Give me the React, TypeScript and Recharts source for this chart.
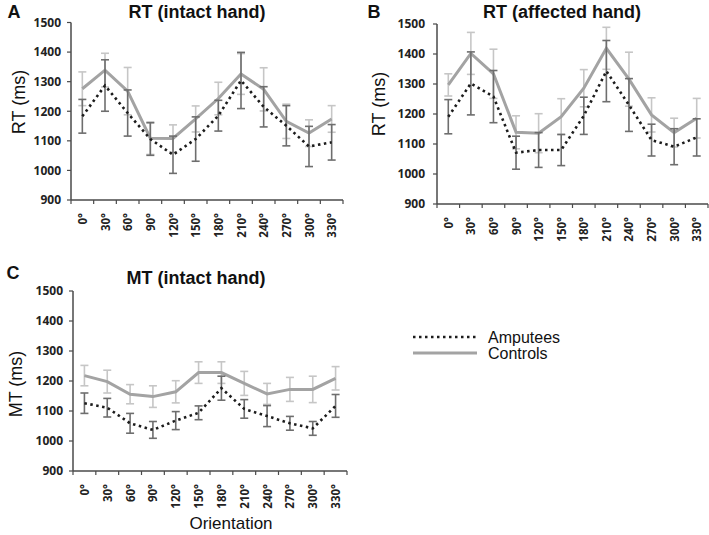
import React from 'react';
import { LineChart, Line, XAxis, YAxis, ErrorBar } from 'recharts';

const orientations = ['0°', '30°', '60°', '90°', '120°', '150°', '180°', '210°', '240°', '270°', '300°', '330°'];
const yTicks = [900, 1000, 1100, 1200, 1300, 1400, 1500];

// Panel A: RT (intact hand)
const rtIntactControls = [1276, 1339, 1268, 1109, 1108, 1174, 1243, 1326, 1274, 1166, 1126, 1174];
const rtIntactControlsErr = [57, 57, 80, 55, 46, 44, 55, 69, 73, 58, 45, 45];
const rtIntactAmputees = [1183, 1287, 1194, 1106, 1053, 1106, 1185, 1304, 1215, 1151, 1081, 1095];
const rtIntactAmputeesErr = [57, 87, 78, 55, 63, 75, 52, 95, 68, 68, 68, 60];

// Panel B: RT (affected hand)
const rtAffectedControls = [1297, 1402, 1334, 1139, 1136, 1191, 1286, 1419, 1316, 1197, 1138, 1186];
const rtAffectedControlsErr = [37, 70, 82, 55, 65, 60, 62, 70, 90, 57, 48, 66];
const rtAffectedAmputees = [1191, 1302, 1258, 1071, 1080, 1080, 1194, 1343, 1230, 1113, 1091, 1122];
const rtAffectedAmputeesErr = [57, 105, 87, 55, 58, 52, 62, 102, 88, 53, 60, 62];

// Panel C: MT (intact hand)
const mtIntactControls = [1218, 1198, 1156, 1148, 1164, 1228, 1228, 1192, 1157, 1172, 1172, 1209];
const mtIntactControlsErr = [34, 38, 32, 36, 37, 36, 36, 40, 35, 40, 44, 39];
const mtIntactAmputees = [1126, 1111, 1059, 1037, 1068, 1094, 1176, 1107, 1083, 1059, 1042, 1117];
const mtIntactAmputeesErr = [34, 31, 33, 28, 30, 23, 40, 31, 35, 23, 23, 38];

const seriesNames = ['Amputees', 'Controls'];

function buildRows(ctl: number[], ctlErr: number[], amp: number[], ampErr: number[]) {
  return orientations.map((label, i) => ({
    idx: i,
    label,
    ctl: ctl[i],
    ctlErr: ctlErr[i],
    amp: amp[i],
    ampErr: ampErr[i],
  }));
}

const xTicks: number[] = [-0.5];
orientations.forEach((_, i) => {
  xTicks.push(i, i + 0.5);
});

const TICK_FONT = "'Open Sans', 'Liberation Sans', Arial, sans-serif";
const TEXT_FONT = "'Liberation Sans', Arial, sans-serif";
const AXIS = '#4a4a4a';

function XTick(props: any) {
  const { x, y, payload } = props;
  const v = payload.value;
  if (Number.isInteger(v)) {
    const ty = y + 13;
    return (
      <text
        x={x}
        y={ty}
        transform={`rotate(-90 ${x} ${ty})`}
        textAnchor="end"
        dominantBaseline="central"
        fontFamily={TICK_FONT}
        fontSize={11.5}
        fontWeight={700}
        fill="#222"
      >
        {orientations[v]}
      </text>
    );
  }
  return <line x1={x} x2={x} y1={y} y2={y + 4} stroke={AXIS} strokeWidth={1.2} />;
}

type PanelProps = {
  rows: any[];
  left: number;
  top: number;
  width: number;
  height: number;
  margin: { top: number; right: number; bottom: number; left: number };
  yAxisWidth: number;
  xAxisHeight: number;
  yTickMargin: number;
};

function Panel({ rows, left, top, width, height, margin, yAxisWidth, xAxisHeight, yTickMargin }: PanelProps) {
  return (
    <div style={{ position: 'absolute', left, top }}>
      <LineChart width={width} height={height} data={rows} margin={margin}>
        <XAxis
          type="number"
          dataKey="idx"
          domain={[-0.5, 11.5]}
          ticks={xTicks}
          interval={0}
          tick={(p: any) => <XTick {...p} />}
          tickLine={false}
          tickSize={0}
          tickMargin={0}
          axisLine={{ stroke: AXIS, strokeWidth: 1.5 }}
          height={xAxisHeight}
        />
        <YAxis
          type="number"
          domain={[900, 1500]}
          ticks={yTicks}
          interval={0}
          width={yAxisWidth}
          tickSize={4}
          tickMargin={yTickMargin}
          tick={{ fontFamily: TICK_FONT, fontSize: 12, fontWeight: 700, fill: '#222' }}
          tickLine={{ stroke: AXIS, strokeWidth: 1.2 }}
          axisLine={{ stroke: AXIS, strokeWidth: 1.5 }}
        />
        <Line
          dataKey="ctl"
          name={seriesNames[1]}
          stroke="#a3a3a3"
          strokeWidth={3}
          dot={false}
          isAnimationActive={false}
        >
          <ErrorBar dataKey="ctlErr" width={4} stroke="#c6c6c6" strokeWidth={1.6} direction="y" />
        </Line>
        <Line
          dataKey="amp"
          name={seriesNames[0]}
          stroke="#1c1c1c"
          strokeWidth={2.6}
          strokeDasharray="2.5 3.5"
          dot={false}
          isAnimationActive={false}
        >
          <ErrorBar dataKey="ampErr" width={4} stroke="#6e6e6e" strokeWidth={1.6} direction="y" />
        </Line>
      </LineChart>
    </div>
  );
}

function Label({ x, y, text, size, bold, rotate }: { x: number; y: number; text: string; size: number; bold?: boolean; rotate?: boolean }) {
  return (
    <div
      style={{
        position: 'absolute',
        left: x,
        top: y,
        transform: `translate(-50%, -50%)${rotate ? ' rotate(-90deg)' : ''}`,
        fontFamily: TEXT_FONT,
        fontSize: size,
        fontWeight: bold ? 700 : 400,
        color: '#111',
        whiteSpace: 'nowrap',
        lineHeight: 1,
      }}
    >
      {text}
    </div>
  );
}

export default function App() {
  const rowsA = buildRows(rtIntactControls, rtIntactControlsErr, rtIntactAmputees, rtIntactAmputeesErr);
  const rowsB = buildRows(rtAffectedControls, rtAffectedControlsErr, rtAffectedAmputees, rtAffectedAmputeesErr);
  const rowsC = buildRows(mtIntactControls, mtIntactControlsErr, mtIntactAmputees, mtIntactAmputeesErr);

  return (
    <div style={{ position: 'absolute', left: 0, top: 0, width: 709, height: 535, background: '#fff', overflow: 'hidden' }}>
      <Panel
        rows={rowsA}
        left={0}
        top={0}
        width={350}
        height={262}
        margin={{ top: 22.5, right: 7, bottom: 0, left: 0 }}
        yAxisWidth={71}
        xAxisHeight={62}
        yTickMargin={6}
      />
      <Panel
        rows={rowsB}
        left={355}
        top={0}
        width={354}
        height={264}
        margin={{ top: 24, right: 1, bottom: 0, left: 0 }}
        yAxisWidth={82}
        xAxisHeight={60}
        yTickMargin={8}
      />
      <Panel
        rows={rowsC}
        left={0}
        top={260}
        width={350}
        height={275}
        margin={{ top: 31, right: 3, bottom: 0, left: 0 }}
        yAxisWidth={73}
        xAxisHeight={64}
        yTickMargin={6}
      />

      <Label x={14} y={12} text="A" size={18} bold />
      <Label x={374} y={12} text="B" size={18} bold />
      <Label x={13} y={273} text="C" size={18} bold />

      <Label x={197} y={12} text="RT (intact hand)" size={18} bold />
      <Label x={562} y={12} text="RT (affected hand)" size={18} bold />
      <Label x={196} y={278} text="MT (intact hand)" size={18} bold />

      <Label x={19} y={102} text="RT (ms)" size={18} rotate />
      <Label x={379} y={104} text="RT (ms)" size={18} rotate />
      <Label x={16} y={384} text="MT (ms)" size={18} rotate />

      <Label x={231} y={523} text="Orientation" size={17} />

      <svg style={{ position: 'absolute', left: 400, top: 325 }} width={200} height={40}>
        <line x1={13} x2={77} y1={12} y2={12} stroke="#1c1c1c" strokeWidth={2.6} strokeDasharray="2.5 3.5" />
        <line x1={13} x2={77} y1={28} y2={28} stroke="#a3a3a3" strokeWidth={3} />
        <text x={88} y={12} dominantBaseline="central" fontFamily={TEXT_FONT} fontSize={16} fill="#111">
          {seriesNames[0]}
        </text>
        <text x={88} y={28} dominantBaseline="central" fontFamily={TEXT_FONT} fontSize={16} fill="#111">
          {seriesNames[1]}
        </text>
      </svg>
    </div>
  );
}
